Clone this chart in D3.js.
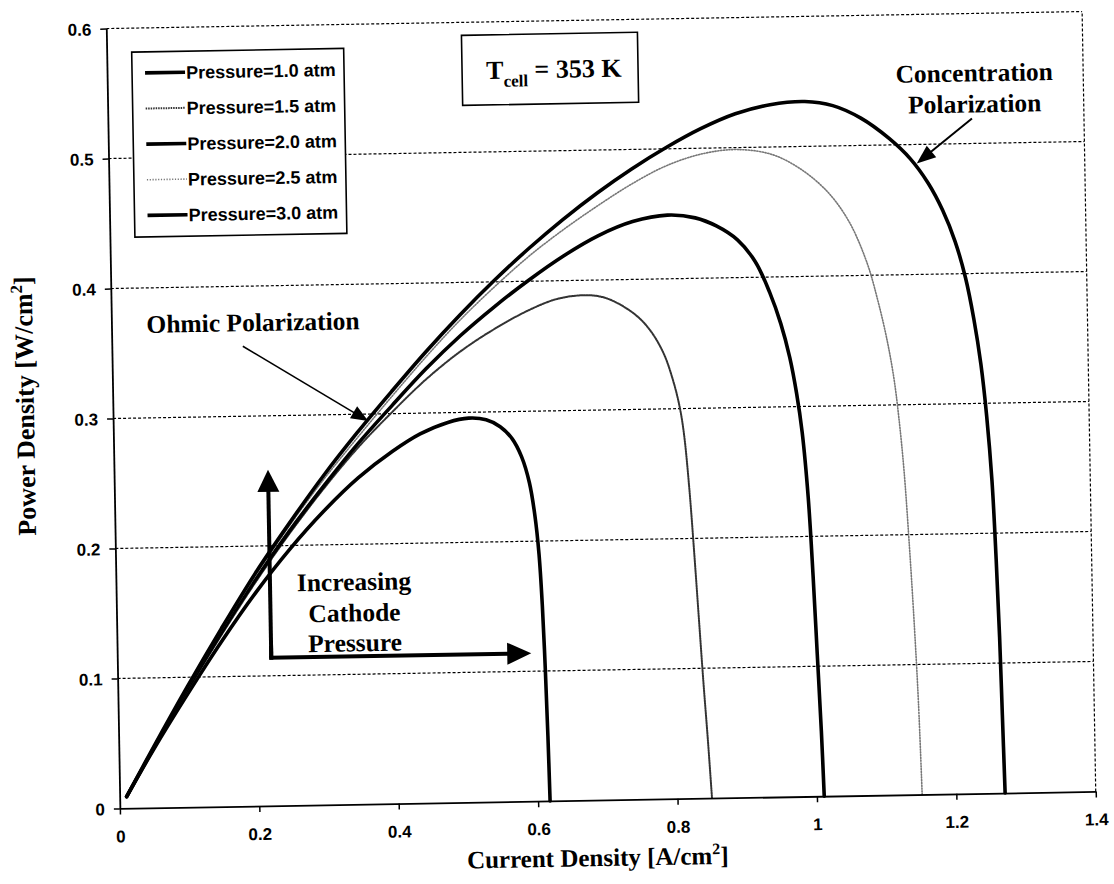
<!DOCTYPE html>
<html><head><meta charset="utf-8">
<script src="https://cdn.jsdelivr.net/npm/d3@7"></script>
<style>
body{margin:0;background:#fff;}
svg{display:block;}
</style></head>
<body>
<svg id="chart" width="1114" height="884"></svg>
<script>
// ---------- data ----------
const seriesNames = ["Pressure=1.0 atm","Pressure=1.5 atm","Pressure=2.0 atm","Pressure=2.5 atm","Pressure=3.0 atm"];

const x10 = [0.01,0.05,0.1,0.15,0.2,0.25,0.3,0.35,0.4,0.44,0.48,0.51,0.535,0.555,0.572,0.585,0.5955,0.6025,0.6075,0.611,0.6137,0.6157,0.6172];
const y10 = [0.009,0.045,0.087,0.127,0.164,0.197,0.226,0.251,0.271,0.284,0.2925,0.2955,0.294,0.2885,0.279,0.265,0.245,0.22,0.19,0.15,0.10,0.05,0];

const x15 = [0.01,0.05,0.1,0.15,0.2,0.25,0.3,0.35,0.4,0.45,0.5,0.55,0.6,0.64,0.68,0.71,0.749,0.772,0.791,0.804,0.813,0.8185,0.8245,0.83,0.835,0.84,0.845,0.8495];
const y15 = [0.009,0.046,0.09,0.132,0.172,0.209,0.243,0.274,0.301,0.326,0.347,0.364,0.378,0.386,0.3885,0.386,0.374,0.361,0.343,0.322,0.301,0.28,0.24,0.19,0.14,0.09,0.045,0];

const x20 = [0.01,0.05,0.1,0.15,0.2,0.25,0.3,0.35,0.4,0.45,0.5,0.55,0.6,0.65,0.7,0.75,0.8,0.84,0.87,0.9,0.925,0.945,0.96,0.972,0.981,0.988,0.995,1.0,1.004,1.008,1.0105];
const y20 = [0.009,0.046,0.091,0.134,0.174,0.211,0.245,0.277,0.306,0.334,0.359,0.381,0.401,0.419,0.434,0.4445,0.449,0.4465,0.44,0.429,0.412,0.388,0.364,0.338,0.31,0.28,0.23,0.17,0.11,0.05,0];

const x25 = [0.01,0.05,0.1,0.15,0.2,0.25,0.3,0.35,0.4,0.45,0.5,0.55,0.6,0.65,0.7,0.75,0.8,0.85,0.9,0.95,0.99,1.03,1.06,1.085,1.1,1.112,1.121,1.127,1.133,1.139,1.144,1.148,1.151];
const y25 = [0.009,0.047,0.092,0.136,0.177,0.215,0.25,0.282,0.313,0.343,0.371,0.396,0.419,0.439,0.457,0.4735,0.487,0.4955,0.4985,0.4945,0.4835,0.465,0.442,0.41,0.38,0.35,0.32,0.29,0.25,0.19,0.13,0.07,0];

const x30 = [0.01,0.05,0.1,0.15,0.2,0.25,0.3,0.35,0.4,0.45,0.5,0.55,0.6,0.65,0.7,0.75,0.8,0.85,0.9,0.95,1.0,1.04,1.08,1.12,1.15,1.175,1.195,1.212,1.226,1.237,1.246,1.253,1.259,1.263,1.266,1.268,1.27];
const y30 = [0.009,0.047,0.093,0.137,0.179,0.217,0.253,0.286,0.317,0.347,0.375,0.401,0.425,0.447,0.467,0.485,0.501,0.515,0.526,0.5325,0.5345,0.531,0.521,0.505,0.489,0.47,0.449,0.425,0.397,0.365,0.33,0.29,0.24,0.18,0.12,0.06,0];

const xTicks = [0,0.2,0.4,0.6,0.8,1,1.2,1.4];
const yTicks = [0,0.1,0.2,0.3,0.4,0.5,0.6];

// ---------- layout ----------
const SANS = "'Liberation Sans', Arial, sans-serif";
const SERIF = "'Liberation Serif', 'Times New Roman', serif";
const m = {left:113, right:1089, top:20, bottom:800};

const svg = d3.select("#chart");
svg.append("rect").attr("width",1114).attr("height",884).attr("fill","#fff");
const root = svg.append("g").attr("transform","rotate(-1,601,410)");

const x = d3.scaleLinear().domain([0,1.4]).range([m.left,m.right]);
const y = d3.scaleLinear().domain([0,0.6]).range([m.bottom,m.top]);

// gridlines + dotted top/right border
const grid = root.append("g").attr("stroke","#000").attr("stroke-width",1.2).attr("stroke-dasharray","3,2");
grid.selectAll("line.h").data(yTicks.filter(d=>d>0)).join("line")
  .attr("x1",x(0)).attr("x2",x(1.4)).attr("y1",d=>y(d)).attr("y2",d=>y(d));
grid.append("line").attr("x1",x(1.4)).attr("x2",x(1.4)).attr("y1",y(0)).attr("y2",y(0.6));

// series
const styles = [
  {stroke:"#000", w:3.6, dash:null},
  {stroke:"#333", w:2.0, dash:"1.5,1"},
  {stroke:"#000", w:3.6, dash:null},
  {stroke:"#777", w:1.6, dash:"1.2,1.6"},
  {stroke:"#000", w:3.6, dash:null}
];
const xsList = [x10,x15,x20,x25,x30];
const ysList = [y10,y15,y20,y25,y30];
const series = seriesNames.map((n,i)=>({name:n, pts:xsList[i].map((v,j)=>[v, ysList[i][j]]), st:styles[i]}));

const line = d3.line().x(d=>x(d[0])).y(d=>y(d[1])).curve(d3.curveCatmullRom.alpha(0.5));
root.append("g").selectAll("path").data(series).join("path")
  .attr("d",d=>line(d.pts)).attr("fill","none")
  .attr("stroke",d=>d.st.stroke).attr("stroke-width",d=>d.st.w)
  .attr("stroke-dasharray",d=>d.st.dash).attr("stroke-linejoin","round").attr("stroke-linecap","round");

// axes
const xAxis = root.append("g").attr("transform",`translate(0,${m.bottom})`)
  .call(d3.axisBottom(x).tickValues(xTicks).tickSize(6).tickSizeOuter(0).tickFormat(d=>String(d)));
const yAxis = root.append("g").attr("transform",`translate(${m.left},0)`)
  .call(d3.axisLeft(y).tickValues(yTicks).tickSize(6).tickSizeOuter(0).tickFormat(d=>String(d)));
[xAxis,yAxis].forEach(a=>{
  a.select(".domain").attr("stroke","#000").attr("stroke-width",1.8);
  a.selectAll(".tick line").attr("stroke","#000").attr("stroke-width",1.5);
  a.selectAll(".tick text").attr("fill","#000").style("font-family",SANS).style("font-size","17px").style("font-weight","bold");
});
xAxis.selectAll(".tick text").attr("y",34).attr("dy","0");
yAxis.selectAll(".tick text").attr("x",-15).attr("dy","0.36em");

// axis titles
const xt = root.append("text").attr("x",590).attr("y",866).attr("text-anchor","middle")
  .style("font-family",SERIF).style("font-size","25px").style("font-weight","bold");
xt.append("tspan").text("Current Density [A/cm");
xt.append("tspan").attr("dy",-10).style("font-size","16px").text("2");
xt.append("tspan").attr("dy",10).text("]");

const yt = root.append("text").attr("transform","translate(34,396) rotate(-90)").attr("text-anchor","middle")
  .style("font-family",SERIF).style("font-size","26px").style("font-weight","bold");
yt.append("tspan").text("Power Density [W/cm");
yt.append("tspan").attr("dy",-10).style("font-size","17px").text("2");
yt.append("tspan").attr("dy",10).text("]");

// legend
const lg = root.append("g");
lg.append("rect").attr("x",138).attr("y",44).attr("width",212).attr("height",185)
  .attr("fill","#fff").attr("stroke","#000").attr("stroke-width",1.6);
const rowY = d3.scaleLinear().domain([0,4]).range([65,207.5]);
series.forEach((s,i)=>{
  lg.append("line").attr("x1",151).attr("x2",191).attr("y1",rowY(i)).attr("y2",rowY(i))
    .attr("stroke",s.st.stroke).attr("stroke-width",s.st.w).attr("stroke-dasharray",s.st.dash);
  lg.append("text").attr("x",192).attr("y",rowY(i)).attr("dy","0.36em")
    .style("font-family",SANS).style("font-size","18px").style("font-weight","bold").text(s.name);
});

// T_cell box
root.append("rect").attr("x",468).attr("y",33).attr("width",176).attr("height",70)
  .attr("fill","#fff").attr("stroke","#000").attr("stroke-width",1.6);
const tt = root.append("text").attr("x",492).attr("y",77)
  .style("font-family",SERIF).style("font-size","26px").style("font-weight","bold");
tt.append("tspan").text("T");
tt.append("tspan").attr("dy",8).style("font-size","17px").text("cell");
tt.append("tspan").attr("dy",-8).text(" = 353 K");

// annotations
function arrow(g,x1,y1,x2,y2,w,hl,hw){
  const dx=x2-x1, dy=y2-y1, L=Math.hypot(dx,dy), ux=dx/L, uy=dy/L;
  const bx=x2-ux*hl, by=y2-uy*hl;
  g.append("line").attr("x1",x1).attr("y1",y1).attr("x2",bx+ux*1).attr("y2",by+uy*1)
    .attr("stroke","#000").attr("stroke-width",w);
  g.append("polygon").attr("points",[[x2,y2],[bx-uy*hw/2,by+ux*hw/2],[bx+uy*hw/2,by-ux*hw/2]].map(p=>p.join(",")).join(" "))
    .attr("fill","#000");
}
const ann = root.append("g");
const annText = (t,xx,yy,anchor)=>ann.append("text").attr("x",xx).attr("y",yy).attr("text-anchor",anchor)
  .style("font-family",SERIF).style("font-size","25.5px").style("font-weight","bold").text(t);

annText("Ohmic Polarization",148,325,"start");
arrow(ann,244,340,368,417,1.6,17,14);

annText("Concentration",980,88,"middle");
annText("Polarization",980,119,"middle");
arrow(ann,977,125,921,169,2,19,15);

annText("Increasing",351,586,"middle");
annText("Cathode",351,617,"middle");
annText("Pressure",351,647,"middle");
ann.append("line").attr("x1",267).attr("y1",654).attr("x2",267).attr("y2",640).attr("stroke","#000").attr("stroke-width",4);
arrow(ann,267,652,267,464,4,22,22);
arrow(ann,265,652,527,652,4,24,22);
</script>
</body></html>
